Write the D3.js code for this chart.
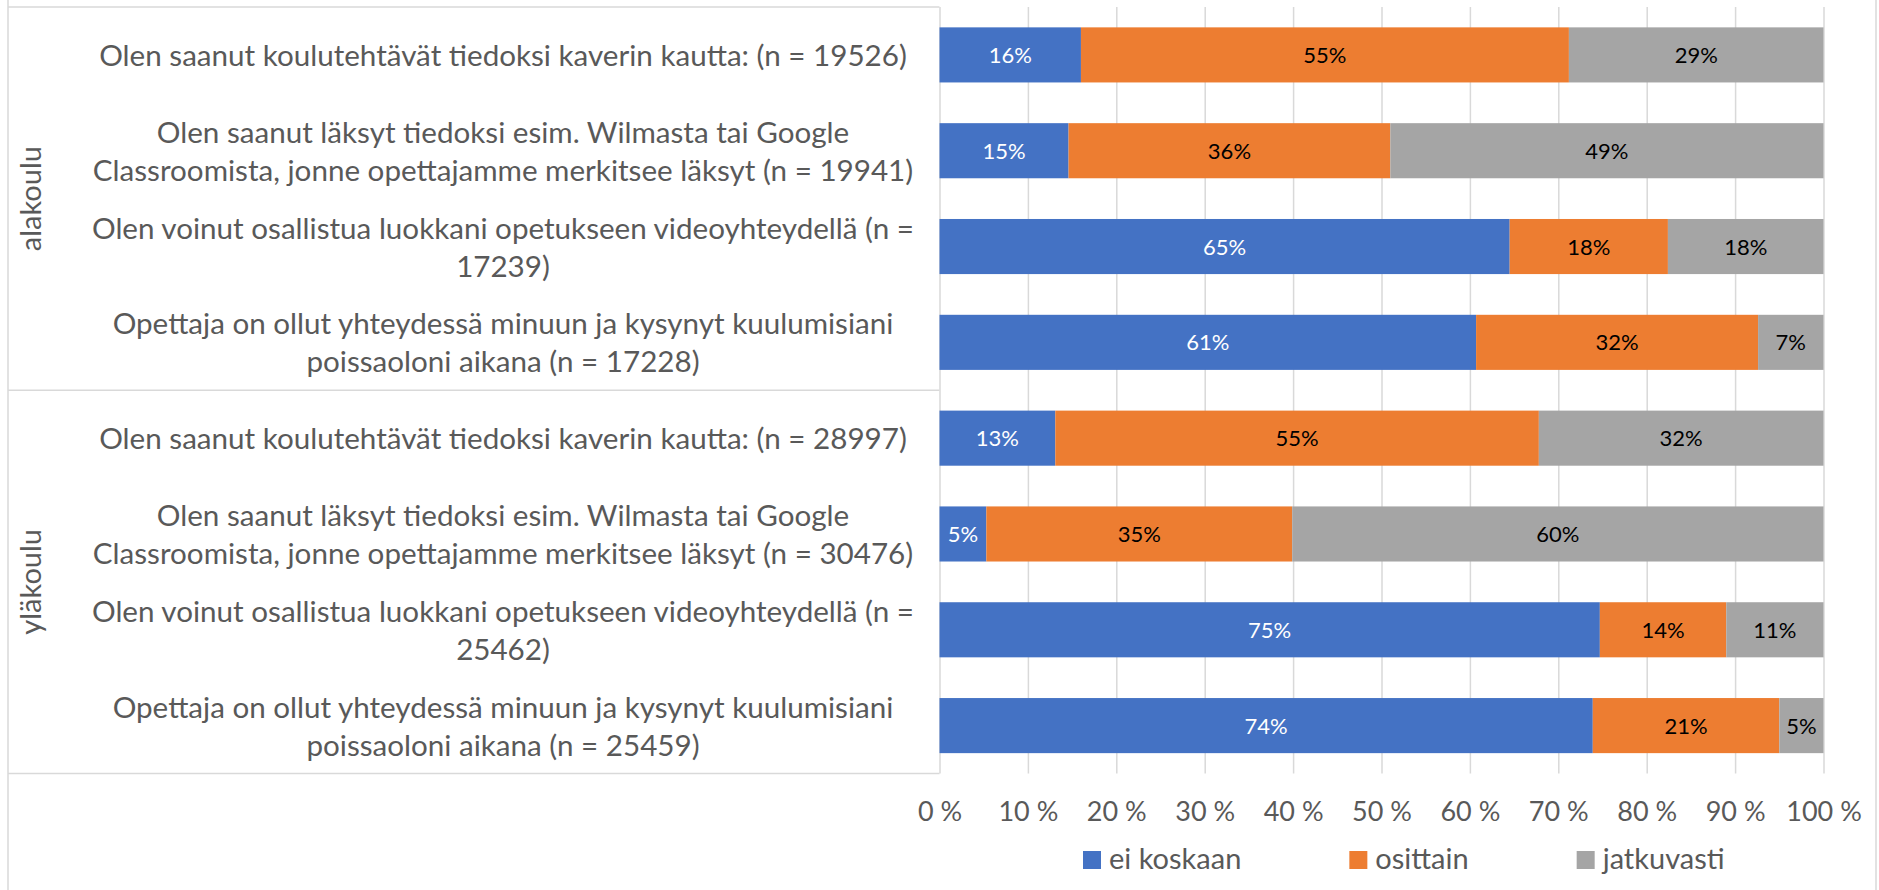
<!DOCTYPE html>
<html>
<head>
<meta charset="utf-8">
<title>Poissaolon aikana</title>
<style>
body { margin: 0; background: #fff; }
text { font-family: Lato, "Liberation Sans", sans-serif; fill: #595959; }
</style>
</head>
<body>
<svg width="1879" height="890"></svg>
<script src="https://d3js.org/d3.v7.min.js"></script>
<script>
// data
var groups = ["alakoulu", "yläkoulu"];
var questions = [
  "Olen saanut koulutehtävät tiedoksi kaverin kautta: (n = 19526)",
  "Olen saanut läksyt tiedoksi esim. Wilmasta tai Google\nClassroomista, jonne opettajamme merkitsee läksyt (n = 19941)",
  "Olen voinut osallistua luokkani opetukseen videoyhteydellä (n =\n17239)",
  "Opettaja on ollut yhteydessä minuun ja kysynyt kuulumisiani\npoissaoloni aikana (n = 17228)",
  "Olen saanut koulutehtävät tiedoksi kaverin kautta: (n = 28997)",
  "Olen saanut läksyt tiedoksi esim. Wilmasta tai Google\nClassroomista, jonne opettajamme merkitsee läksyt (n = 30476)",
  "Olen voinut osallistua luokkani opetukseen videoyhteydellä (n =\n25462)",
  "Opettaja on ollut yhteydessä minuun ja kysynyt kuulumisiani\npoissaoloni aikana (n = 25459)"
];
var series = ["ei koskaan", "osittain", "jatkuvasti"];
var eiKoskaan  = [16.0, 14.6, 64.5, 60.7, 13.1,  5.3, 74.7, 73.9];
var osittain   = [55.2, 36.4, 17.9, 31.9, 54.7, 34.6, 14.3, 21.1];
var jatkuvasti = [28.8, 49.0, 17.6,  7.4, 32.2, 60.1, 11.0,  5.0];
var tickValues = [0, 10, 20, 30, 40, 50, 60, 70, 80, 90, 100];

var colors = ["#4472C4", "#ED7D31", "#A5A5A5"];
var labelColors = ["#fff", "#000", "#000"];

var rows = questions.map(function(q, i) {
  var r = { idx: i, group: groups[Math.floor(i / 4)], label: q };
  r[series[0]] = eiKoskaan[i];
  r[series[1]] = osittain[i];
  r[series[2]] = jatkuvasti[i];
  return r;
});

var svg = d3.select("svg");

var x = d3.scaleLinear().domain([0, 100]).range([939.5, 1823.5]);
var y = d3.scaleBand()
    .domain(d3.range(rows.length))
    .range([7, 773.5])
    .paddingInner(0.425)
    .paddingOuter(0.2125);

var grid = "#d9d9d9";

// chart border sides
svg.append("line").attr("x1", 8).attr("x2", 8).attr("y1", 0).attr("y2", 890)
    .attr("stroke", grid).attr("stroke-width", 1.5);
svg.append("line").attr("x1", 1876).attr("x2", 1876).attr("y1", 0).attr("y2", 890)
    .attr("stroke", grid).attr("stroke-width", 1.5);

// gridlines + tick labels
var axis = svg.append("g")
    .attr("transform", "translate(0," + y.range()[1] + ")")
    .call(d3.axisBottom(x)
      .tickValues(tickValues)
      .tickSize(-(y.range()[1] - y.range()[0]))
      .tickFormat(function(d) { return d + " %"; }));
axis.select(".domain").remove();
axis.selectAll(".tick line").attr("stroke", grid).attr("stroke-width", 1.5);
axis.selectAll(".tick text")
    .attr("y", 47).attr("dy", 0)
    .attr("fill", "#595959")
    .style("font-size", "27px")
    .style("font-family", "Lato, 'Liberation Sans', sans-serif");

// category table lines
var groupEdges = [y.range()[0], y(4) - y.step() * y.paddingInner() / 2, y.range()[1]];
svg.append("g").selectAll("line")
  .data(groupEdges)
  .enter().append("line")
    .attr("x1", 8).attr("x2", x(0))
    .attr("y1", function(d) { return d; }).attr("y2", function(d) { return d; })
    .attr("stroke", grid).attr("stroke-width", 1.5);

// stacked bars
var stack = d3.stack().keys(series)(rows);
var layer = svg.append("g").selectAll("g")
  .data(stack)
  .enter().append("g")
    .attr("fill", function(d, i) { return colors[i]; });

layer.selectAll("rect")
  .data(function(d) { return d; })
  .enter().append("rect")
    .attr("x", function(d) { return x(d[0]); })
    .attr("y", function(d) { return y(d.data.idx); })
    .attr("width", function(d) { return x(d[1]) - x(d[0]); })
    .attr("height", y.bandwidth());

// data labels
svg.append("g").selectAll("g")
  .data(stack)
  .enter().append("g")
  .each(function(s, si) {
    d3.select(this).selectAll("text")
      .data(s)
      .enter().append("text")
        .attr("x", function(d) { return (x(d[0]) + x(d[1])) / 2; })
        .attr("y", function(d) { return y(d.data.idx) + y.bandwidth() / 2 + 8; })
        .attr("text-anchor", "middle")
        .style("fill", labelColors[si])
        .style("font-size", "22px")
        .text(function(d) { return Math.round(d[1] - d[0]) + "%"; });
  });

// question labels
var lineH = 38;
svg.append("g").selectAll("text")
  .data(rows)
  .enter().append("text")
    .attr("text-anchor", "middle")
    .style("font-size", "29.6px")
    .each(function(d) {
      var lines = d.label.split("\n");
      var cy = y(d.idx) + y.bandwidth() / 2;
      var t = d3.select(this);
      lines.forEach(function(l, k) {
        t.append("tspan")
          .attr("x", 503)
          .attr("y", cy - (lines.length - 1) * lineH / 2 + k * lineH + 11)
          .text(l);
      });
    });

// group labels
svg.append("g").selectAll("text")
  .data(groups)
  .enter().append("text")
    .attr("transform", function(d, i) {
      var cy = (groupEdges[i] + groupEdges[i + 1]) / 2;
      return "translate(41," + cy + ") rotate(-90)";
    })
    .attr("text-anchor", "middle")
    .style("font-size", "29px")
    .text(function(d) { return d; });

// legend
var lx = 1083;
var legend = svg.append("g");
series.forEach(function(s, i) {
  legend.append("rect")
    .attr("x", lx).attr("y", 851)
    .attr("width", 18).attr("height", 18)
    .attr("fill", colors[i]);
  var t = legend.append("text")
    .attr("x", lx + 26).attr("y", 869)
    .style("font-size", "29px")
    .text(s);
  lx += 26 + t.node().getComputedTextLength() + 108;
});
</script>
</body>
</html>
